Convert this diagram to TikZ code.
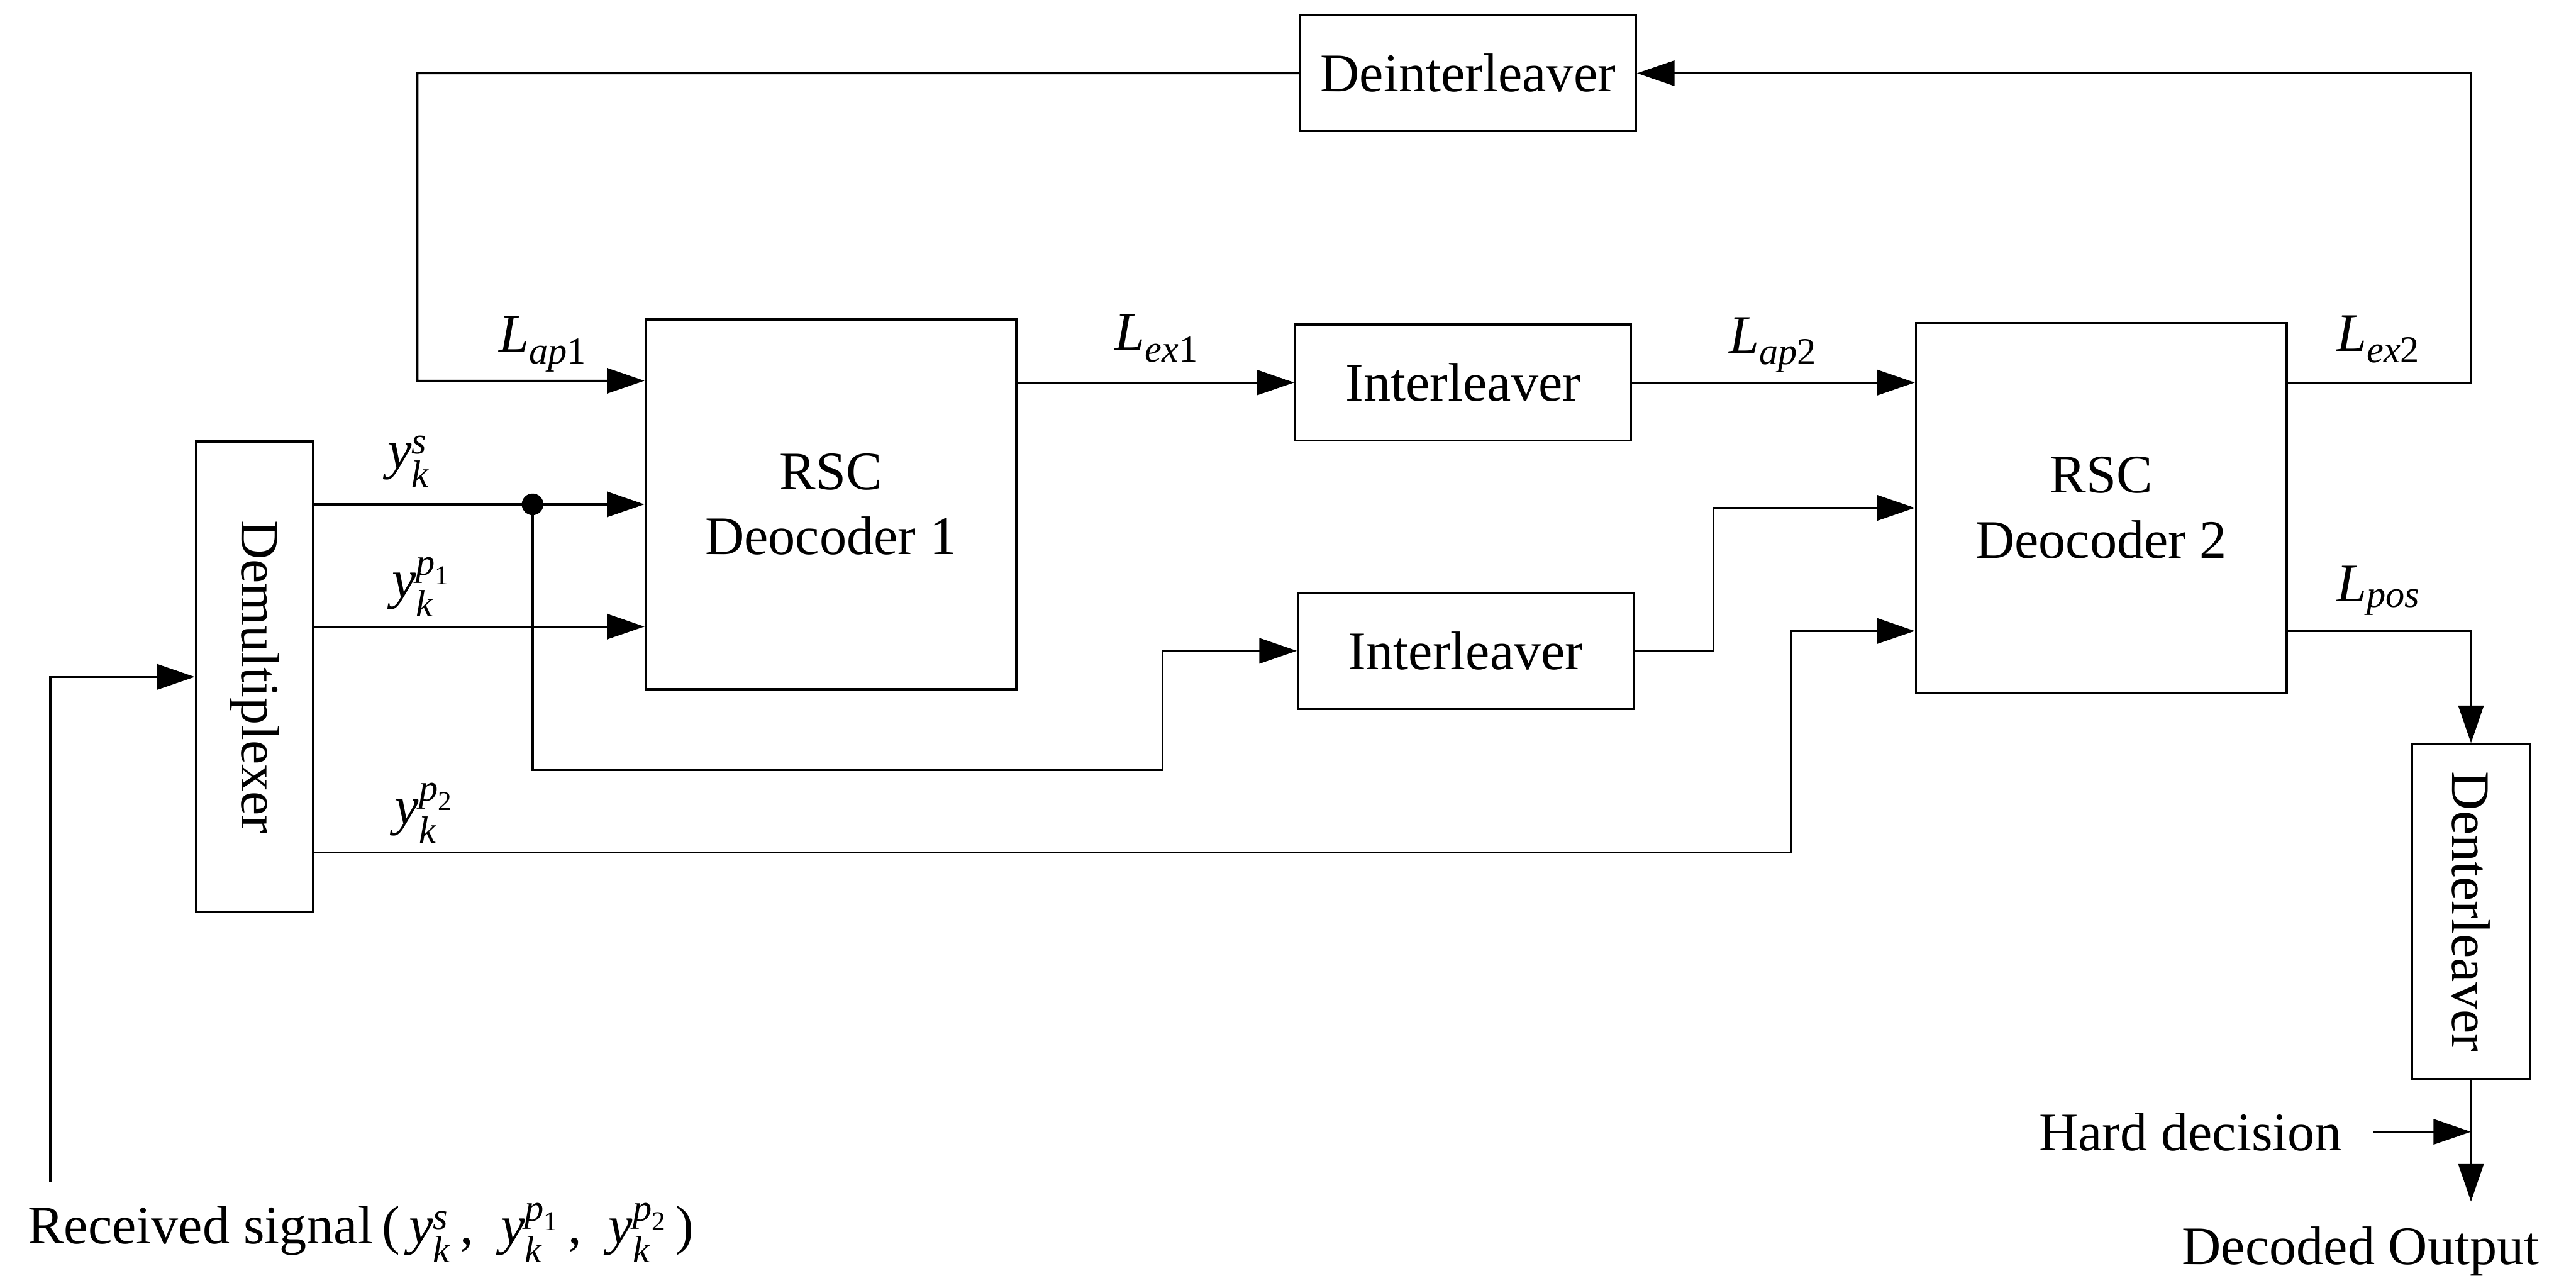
\documentclass[tikz,border=0pt]{standalone}
\usepackage{amsmath}
\usepackage{fontspec}
\setmainfont{Liberation Serif}
\usetikzlibrary{arrows.meta,positioning,calc}

\newcommand{\Lsub}[2]{\textit{L}$_{\textit{#1}\textup{#2}}$}
\newcommand{\ysub}[1]{\textit{y}$^{#1}_{\textit{k}}$}

\begin{document}
\begin{tikzpicture}[>={Triangle[length=0.85cm,width=0.57cm]},line width=1.4pt,
  every node/.style={font=\fontsize{35}{42}\selectfont},
  box/.style={draw,rectangle,inner sep=0pt,align=center},
  decbox/.style={box,minimum width=8.4cm,minimum height=8.38cm},
  ilvbox/.style={box,minimum width=7.61cm,minimum height=2.63cm},
  vbox/.style={box,minimum width=2.66cm},
  dot/.style={circle,fill,inner sep=0pt,minimum size=0.49cm}]
  \useasboundingbox (0,0) rectangle (58.38,-29.19);

  % blocks
  \node[decbox] (dec1) at (18.83,-11.43) {RSC\\Deocoder 1};
  \node[decbox] (dec2) at (47.62,-11.51) {RSC\\Deocoder 2};
  \node[ilvbox] (int1) at (33.16,-8.67) {Interleaver};
  \node[ilvbox] (int2) at (33.22,-14.75) {Interleaver};
  \node[ilvbox] (dein) at (33.27,-1.66) {Deinterleaver};
  \node[vbox,minimum height=10.67cm] (demux) at (5.77,-15.34) {\rotatebox{-90}{Demultiplexer}};
  \node[vbox,minimum height=7.59cm] (deint2) at (56.0,-20.66) {\rotatebox{-90}{Denterleaver}};

  % bends and taps
  \coordinate (fbL) at (9.46,-8.63);
  \coordinate (fbR) at (56.0,-1.66);
  \coordinate (rxin) at (1.14,-26.79);
  \node[dot] (tap) at (12.07,-11.43) {};
  \coordinate (brk1) at (26.35,-17.45);
  \coordinate (brk2) at (40.60,-19.32);
  \coordinate (brk3) at (38.83,-14.75);
  \coordinate (dout) at (56.0,-27.23);
  \coordinate (d1a) at ($(dec1.west)+(0,2.8)$);
  \coordinate (d1c) at ($(dec1.west)+(0,-2.77)$);
  \coordinate (d2c) at ($(dec2.west)+(0,-2.79)$);
  \coordinate (d2o1) at ($(dec2.east)+(0,2.82)$);
  \coordinate (d2o2) at ($(dec2.east)+(0,-2.79)$);

  % connectors
  \draw[->] (dein.west) -| (fbL) -- (d1a);
  \draw[->] (d2o1) -| (fbR) -- (dein.east);
  \draw[->] (rxin) |- (demux.west);
  \draw[->] (demux.east |- tap) -- (dec1.west);
  \draw[->] (demux.east |- d1c) -- (d1c);
  \draw[->] (tap.center) |- (brk1) |- (int2.west);
  \draw[->] (demux.east |- brk2) -- (brk2) |- (d2c);
  \draw[->] (int2.east) -- (brk3) |- (dec2.west);
  \draw[->] (dec1.east |- int1.west) -- (int1.west);
  \draw[->] (int1.east) -- (int1.east -| dec2.west);
  \draw[->] (d2o2) -| (deint2.north);
  \draw[->] (deint2.south) -- (dout);
  \node[anchor=east] (hard) at (53.22,-25.65) {Hard decision};
  \draw[->] ([xshift=0.55cm]hard.east) -- (hard.east -| deint2.south);

  % signal labels
  \node (lap1) at (12.3,-7.8) {\Lsub{ap}{1}};
  \node (lex1) at (26.21,-7.67) {\Lsub{ex}{1}};
  \node (lap2) at (40.18,-7.82) {\Lsub{ap}{2}};
  \node (lex2) at (53.9,-7.69) {\Lsub{ex}{2}};
  \node (lpos) at (53.9,-13.39) {\Lsub{pos}{}};
  \node (ys) at (9.26,-10.46) {\ysub{\textit{s}}};
  \node (yp1) at (9.54,-13.3) {\ysub{\textit{p}_{\textup{1}}}};
  \node (yp2) at (9.61,-18.43) {\ysub{\textit{p}_{\textup{2}}}};

  % input and output
  \node[anchor=base west] (rx) at (0.49,-28.18) {Received signal\,(\,\ysub{\textit{s}}\,,\enspace\ysub{\textit{p}_{\textup{1}}}\,,\enspace\ysub{\textit{p}_{\textup{2}}}\,)};
  \node[anchor=base] (decout) at (53.5,-28.66) {Decoded Output};
\end{tikzpicture}
\end{document}
